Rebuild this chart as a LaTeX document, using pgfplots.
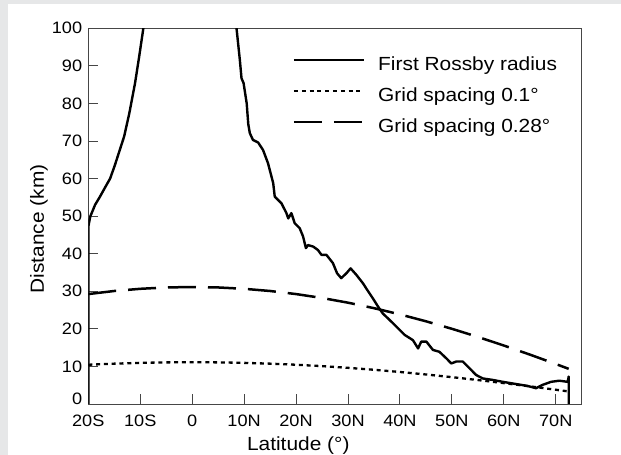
\documentclass[border=0pt]{standalone}
\usepackage{fontspec}
\setmainfont[FakeStretch=1.1]{Liberation Sans}
\usepackage{pgfplots}
\pgfplotsset{compat=1.18}
\definecolor{bg}{RGB}{230,231,232}
\definecolor{axc}{RGB}{70,70,70}
\begin{document}
\begin{tikzpicture}
\fill[bg] (-88.3bp,-51bp) rectangle (532.7bp,404bp);
\fill[white] (-80.3bp,-51bp) rectangle (532.7bp,400bp);
\begin{axis}[
  at={(0,0)}, anchor=south west,
  scale only axis, width=493.4bp, height=375.7bp,
  xmin=-20, xmax=75, ymin=0, ymax=100,
  axis line style={axc, line width=0.9bp},
  tick style={axc, line width=0.9bp},
  tick align=inside, major tick length=10bp,
  xtick pos=left, ytick pos=left,
  xtick={-20,-10,0,10,20,30,40,50,60,70},
  xticklabels={20S,10S,0,10N,20N,30N,40N,50N,60N,70N},
  ytick={0,10,20,30,40,50,60,70,80,90,100},
  yticklabels={\raisebox{5bp}[\height][\depth]{0},10,20,30,40,50,60,70,80,90,100},
  xticklabel style={font=\fontsize{16.5bp}{18bp}\selectfont, anchor=base, inner sep=0pt, yshift=-22bp},
  yticklabel style={font=\fontsize{16.5bp}{18bp}\selectfont, anchor=east, inner sep=0pt, xshift=-6bp},
  xlabel={Latitude (°)},
  xlabel style={font=\fontsize{19bp}{22bp}\selectfont, at={(axis description cs:0.4256,-0.124)}, anchor=base, inner sep=0pt},
  ylabel={Distance (km)},
  ylabel style={font=\fontsize{19bp}{22bp}\selectfont, at={(axis description cs:-0.0898,0.4658)}, anchor=base, inner sep=0pt},
  legend style={draw=none, fill=none, at={(axis description cs:0.4143,0.9245)}, anchor=north west,
    inner sep=0pt, outer sep=0pt, row sep=13bp, column sep=13bp,
    font=\fontsize{19bp}{22bp}\selectfont,
    nodes={inner sep=0pt, text height=14bp, text depth=4bp}},
  legend cell align=left,
  legend image code/.code={\draw[#1] (0bp,5.5bp) -- (70bp,5.5bp);},
  unbounded coords=jump,
]
\addplot[black, line width=2.4bp, line join=round] coordinates {
(-20,0) (-20,47.2) (-19.6,50) (-19.35,50.8) (-18.7,53) (-17.75,55.2) (-16.5,58.3) (-15.8,60)
(-14.9,63.5) (-14.2,66.5) (-13.1,71.2) (-12.1,77.4) (-11,85.4) (-10.2,92.5) (-9.4,100) (-9.3,101)
(0,nan)
(8.45,101) (8.54,100) (9.17,91.7) (9.5,86.7) (9.9,85.4) (10.5,80) (10.8,74.5) (11.1,72.1)
(11.4,71.2) (11.7,70.3) (12.7,69.6) (13.65,67.6) (14.6,64.1) (15.6,58.8) (15.9,55.2) (16.2,54.8)
(17.2,53.4) (18.15,50.8) (18.5,49.4) (19.1,50.8) (19.75,48.1) (20.7,46.8) (21.35,44.6) (21.9,41.5)
(22.3,42.3) (23.3,41.9) (24.2,41.0) (24.9,39.7) (25.85,39.7) (27.1,37.5) (27.9,34.8) (28.7,33.5)
(29.7,34.8) (30.5,36.1) (31.6,34.4) (32.9,32.1) (33.5,30.8) (34.8,28.1) (35.8,25.9) (36.7,24.1)
(38.0,22.4) (39.6,20.2) (40.9,18.4) (42.5,17.0) (43.5,14.8) (44.1,16.6) (45.1,16.6) (46.35,14.4)
(47.6,13.9) (48.9,12.2) (49.9,10.8) (50.85,11.3) (52.1,11.3) (53.4,9.5) (54.7,7.7) (55.96,6.8)
(57.9,6.4) (59.8,5.9) (62.4,5.3) (64.6,4.8) (66.2,4.2) (67.5,5.1) (69.1,5.9) (70.7,6.2)
(72.3,5.9) (72.5,7.3) (72.5,0)
};
\addlegendentry{First Rossby radius}
\addplot[black, line width=2.3bp, dash pattern=on 4bp off 3.8bp] coordinates {
(-20,10.45) (-15,10.74) (-10,10.95) (-5,11.08) (0,11.12) (5,11.08) (10,10.95) (15,10.74)
(20,10.45) (25,10.08) (30,9.63) (35,9.11) (40,8.52) (45,7.86) (50,7.15) (55,6.38)
(60,5.56) (65,4.70) (70,3.80) (72.5,3.34)
};
\addlegendentry{Grid spacing 0.1°}
\addplot[black, line width=2.5bp, dash pattern=on 28bp off 12bp] coordinates {
(-20,29.26) (-15,30.08) (-10,30.66) (-5,31.02) (0,31.14) (5,31.02) (10,30.66) (15,30.08)
(20,29.26) (25,28.22) (30,26.97) (35,25.51) (40,23.85) (45,22.02) (50,20.02) (55,17.86)
(60,15.57) (65,13.16) (70,10.65) (72.5,9.36)
};
\addlegendentry{Grid spacing 0.28°}
\end{axis}
\pgfresetboundingbox
\useasboundingbox (-88.3bp,-51bp) rectangle (532.7bp,404bp);
\end{tikzpicture}
\end{document}
